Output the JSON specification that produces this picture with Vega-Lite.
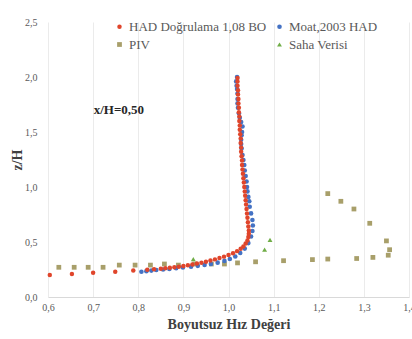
{
  "$schema": "https://vega.github.io/schema/vega-lite/v6.json",
  "autosize": {"type": "none"},
  "padding": {"left": 48, "top": 22, "right": 3, "bottom": 42},
  "width": 361,
  "height": 275,
  "background": "white",
  "config": {
    "view": {"stroke": null},
    "font": "Liberation Serif"
  },
  "layer": [
    {
      "data": {
        "values": [
          {"s": "PIV", "x": 0.624, "z": 0.27},
          {"s": "PIV", "x": 0.658, "z": 0.27},
          {"s": "PIV", "x": 0.689, "z": 0.27},
          {"s": "PIV", "x": 0.722, "z": 0.27},
          {"s": "PIV", "x": 0.758, "z": 0.29},
          {"s": "PIV", "x": 0.793, "z": 0.29},
          {"s": "PIV", "x": 0.827, "z": 0.29},
          {"s": "PIV", "x": 0.858, "z": 0.30},
          {"s": "PIV", "x": 0.889, "z": 0.29},
          {"s": "PIV", "x": 0.925, "z": 0.30},
          {"s": "PIV", "x": 0.962, "z": 0.30},
          {"s": "PIV", "x": 0.991, "z": 0.30},
          {"s": "PIV", "x": 1.020, "z": 0.31},
          {"s": "PIV", "x": 1.060, "z": 0.32},
          {"s": "PIV", "x": 1.122, "z": 0.33},
          {"s": "PIV", "x": 1.186, "z": 0.34},
          {"s": "PIV", "x": 1.220, "z": 0.345},
          {"s": "PIV", "x": 1.284, "z": 0.35},
          {"s": "PIV", "x": 1.320, "z": 0.36},
          {"s": "PIV", "x": 1.354, "z": 0.38},
          {"s": "PIV", "x": 1.357, "z": 0.43},
          {"s": "PIV", "x": 1.350, "z": 0.51},
          {"s": "PIV", "x": 1.313, "z": 0.67},
          {"s": "PIV", "x": 1.278, "z": 0.80},
          {"s": "PIV", "x": 1.249, "z": 0.87},
          {"s": "PIV", "x": 1.220, "z": 0.94},
          {"s": "Moat,2003 HAD", "x": 0.807, "z": 0.230},
          {"s": "Moat,2003 HAD", "x": 0.818, "z": 0.235},
          {"s": "Moat,2003 HAD", "x": 0.829, "z": 0.240},
          {"s": "Moat,2003 HAD", "x": 0.840, "z": 0.245},
          {"s": "Moat,2003 HAD", "x": 0.855, "z": 0.250},
          {"s": "Moat,2003 HAD", "x": 0.869, "z": 0.255},
          {"s": "Moat,2003 HAD", "x": 0.884, "z": 0.262},
          {"s": "Moat,2003 HAD", "x": 0.899, "z": 0.268},
          {"s": "Moat,2003 HAD", "x": 0.917, "z": 0.275},
          {"s": "Moat,2003 HAD", "x": 0.932, "z": 0.283},
          {"s": "Moat,2003 HAD", "x": 0.947, "z": 0.292},
          {"s": "Moat,2003 HAD", "x": 0.961, "z": 0.300},
          {"s": "Moat,2003 HAD", "x": 0.976, "z": 0.312},
          {"s": "Moat,2003 HAD", "x": 0.991, "z": 0.328},
          {"s": "Moat,2003 HAD", "x": 1.003, "z": 0.345},
          {"s": "Moat,2003 HAD", "x": 1.015, "z": 0.368},
          {"s": "Moat,2003 HAD", "x": 1.026, "z": 0.400},
          {"s": "Moat,2003 HAD", "x": 1.036, "z": 0.440},
          {"s": "Moat,2003 HAD", "x": 1.044, "z": 0.490},
          {"s": "Moat,2003 HAD", "x": 1.050, "z": 0.550},
          {"s": "Moat,2003 HAD", "x": 1.053, "z": 0.600},
          {"s": "Moat,2003 HAD", "x": 1.054, "z": 0.650},
          {"s": "Moat,2003 HAD", "x": 1.053, "z": 0.700},
          {"s": "Moat,2003 HAD", "x": 1.050, "z": 0.760},
          {"s": "Moat,2003 HAD", "x": 1.047, "z": 0.820},
          {"s": "Moat,2003 HAD", "x": 1.046, "z": 0.870},
          {"s": "Moat,2003 HAD", "x": 1.044, "z": 0.910},
          {"s": "Moat,2003 HAD", "x": 1.042, "z": 0.960},
          {"s": "Moat,2003 HAD", "x": 1.041, "z": 1.000},
          {"s": "Moat,2003 HAD", "x": 1.040, "z": 1.050},
          {"s": "Moat,2003 HAD", "x": 1.038, "z": 1.100},
          {"s": "Moat,2003 HAD", "x": 1.036, "z": 1.150},
          {"s": "Moat,2003 HAD", "x": 1.035, "z": 1.200},
          {"s": "Moat,2003 HAD", "x": 1.033, "z": 1.245},
          {"s": "Moat,2003 HAD", "x": 1.031, "z": 1.290},
          {"s": "Moat,2003 HAD", "x": 1.029, "z": 1.350},
          {"s": "Moat,2003 HAD", "x": 1.028, "z": 1.390},
          {"s": "Moat,2003 HAD", "x": 1.028, "z": 1.430},
          {"s": "Moat,2003 HAD", "x": 1.029, "z": 1.470},
          {"s": "Moat,2003 HAD", "x": 1.030, "z": 1.500},
          {"s": "Moat,2003 HAD", "x": 1.031, "z": 1.550},
          {"s": "Moat,2003 HAD", "x": 1.028, "z": 1.590},
          {"s": "Moat,2003 HAD", "x": 1.025, "z": 1.630},
          {"s": "Moat,2003 HAD", "x": 1.023, "z": 1.670},
          {"s": "Moat,2003 HAD", "x": 1.021, "z": 1.720},
          {"s": "Moat,2003 HAD", "x": 1.020, "z": 1.760},
          {"s": "Moat,2003 HAD", "x": 1.020, "z": 1.800},
          {"s": "Moat,2003 HAD", "x": 1.020, "z": 1.850},
          {"s": "Moat,2003 HAD", "x": 1.019, "z": 1.890},
          {"s": "Moat,2003 HAD", "x": 1.018, "z": 1.920},
          {"s": "Moat,2003 HAD", "x": 1.017, "z": 1.960},
          {"s": "Moat,2003 HAD", "x": 1.019, "z": 2.000},
          {"s": "HAD Doğrulama 1,08 BO", "x": 0.604, "z": 0.20},
          {"s": "HAD Doğrulama 1,08 BO", "x": 0.653, "z": 0.21},
          {"s": "HAD Doğrulama 1,08 BO", "x": 0.700, "z": 0.22},
          {"s": "HAD Doğrulama 1,08 BO", "x": 0.749, "z": 0.23},
          {"s": "HAD Doğrulama 1,08 BO", "x": 0.789, "z": 0.24},
          {"s": "HAD Doğrulama 1,08 BO", "x": 0.820, "z": 0.248},
          {"s": "HAD Doğrulama 1,08 BO", "x": 0.835, "z": 0.252},
          {"s": "HAD Doğrulama 1,08 BO", "x": 0.850, "z": 0.257},
          {"s": "HAD Doğrulama 1,08 BO", "x": 0.860, "z": 0.261},
          {"s": "HAD Doğrulama 1,08 BO", "x": 0.870, "z": 0.266},
          {"s": "HAD Doğrulama 1,08 BO", "x": 0.880, "z": 0.271},
          {"s": "HAD Doğrulama 1,08 BO", "x": 0.890, "z": 0.276},
          {"s": "HAD Doğrulama 1,08 BO", "x": 0.900, "z": 0.282},
          {"s": "HAD Doğrulama 1,08 BO", "x": 0.910, "z": 0.289},
          {"s": "HAD Doğrulama 1,08 BO", "x": 0.920, "z": 0.296},
          {"s": "HAD Doğrulama 1,08 BO", "x": 0.930, "z": 0.304},
          {"s": "HAD Doğrulama 1,08 BO", "x": 0.940, "z": 0.312},
          {"s": "HAD Doğrulama 1,08 BO", "x": 0.950, "z": 0.321},
          {"s": "HAD Doğrulama 1,08 BO", "x": 0.960, "z": 0.331},
          {"s": "HAD Doğrulama 1,08 BO", "x": 0.970, "z": 0.342},
          {"s": "HAD Doğrulama 1,08 BO", "x": 0.980, "z": 0.354},
          {"s": "HAD Doğrulama 1,08 BO", "x": 0.990, "z": 0.367},
          {"s": "HAD Doğrulama 1,08 BO", "x": 1.000, "z": 0.381},
          {"s": "HAD Doğrulama 1,08 BO", "x": 1.010, "z": 0.398},
          {"s": "HAD Doğrulama 1,08 BO", "x": 1.019, "z": 0.417},
          {"s": "HAD Doğrulama 1,08 BO", "x": 1.027, "z": 0.438},
          {"s": "HAD Doğrulama 1,08 BO", "x": 1.033, "z": 0.460},
          {"s": "HAD Doğrulama 1,08 BO", "x": 1.038, "z": 0.486},
          {"s": "HAD Doğrulama 1,08 BO", "x": 1.042, "z": 0.514},
          {"s": "HAD Doğrulama 1,08 BO", "x": 1.044, "z": 0.545},
          {"s": "HAD Doğrulama 1,08 BO", "x": 1.045, "z": 0.575},
          {"s": "HAD Doğrulama 1,08 BO", "x": 1.045, "z": 0.605},
          {"s": "HAD Doğrulama 1,08 BO", "x": 1.044, "z": 0.640},
          {"s": "HAD Doğrulama 1,08 BO", "x": 1.043, "z": 0.680},
          {"s": "HAD Doğrulama 1,08 BO", "x": 1.042, "z": 0.720},
          {"s": "HAD Doğrulama 1,08 BO", "x": 1.041, "z": 0.760},
          {"s": "HAD Doğrulama 1,08 BO", "x": 1.040, "z": 0.800},
          {"s": "HAD Doğrulama 1,08 BO", "x": 1.039, "z": 0.840},
          {"s": "HAD Doğrulama 1,08 BO", "x": 1.038, "z": 0.880},
          {"s": "HAD Doğrulama 1,08 BO", "x": 1.037, "z": 0.920},
          {"s": "HAD Doğrulama 1,08 BO", "x": 1.036, "z": 0.960},
          {"s": "HAD Doğrulama 1,08 BO", "x": 1.035, "z": 1.000},
          {"s": "HAD Doğrulama 1,08 BO", "x": 1.034, "z": 1.040},
          {"s": "HAD Doğrulama 1,08 BO", "x": 1.033, "z": 1.080},
          {"s": "HAD Doğrulama 1,08 BO", "x": 1.032, "z": 1.120},
          {"s": "HAD Doğrulama 1,08 BO", "x": 1.031, "z": 1.160},
          {"s": "HAD Doğrulama 1,08 BO", "x": 1.030, "z": 1.200},
          {"s": "HAD Doğrulama 1,08 BO", "x": 1.030, "z": 1.240},
          {"s": "HAD Doğrulama 1,08 BO", "x": 1.029, "z": 1.280},
          {"s": "HAD Doğrulama 1,08 BO", "x": 1.028, "z": 1.320},
          {"s": "HAD Doğrulama 1,08 BO", "x": 1.028, "z": 1.360},
          {"s": "HAD Doğrulama 1,08 BO", "x": 1.027, "z": 1.400},
          {"s": "HAD Doğrulama 1,08 BO", "x": 1.027, "z": 1.440},
          {"s": "HAD Doğrulama 1,08 BO", "x": 1.026, "z": 1.480},
          {"s": "HAD Doğrulama 1,08 BO", "x": 1.025, "z": 1.520},
          {"s": "HAD Doğrulama 1,08 BO", "x": 1.025, "z": 1.560},
          {"s": "HAD Doğrulama 1,08 BO", "x": 1.024, "z": 1.600},
          {"s": "HAD Doğrulama 1,08 BO", "x": 1.024, "z": 1.640},
          {"s": "HAD Doğrulama 1,08 BO", "x": 1.023, "z": 1.680},
          {"s": "HAD Doğrulama 1,08 BO", "x": 1.023, "z": 1.720},
          {"s": "HAD Doğrulama 1,08 BO", "x": 1.022, "z": 1.760},
          {"s": "HAD Doğrulama 1,08 BO", "x": 1.022, "z": 1.800},
          {"s": "HAD Doğrulama 1,08 BO", "x": 1.021, "z": 1.840},
          {"s": "HAD Doğrulama 1,08 BO", "x": 1.021, "z": 1.880},
          {"s": "HAD Doğrulama 1,08 BO", "x": 1.020, "z": 1.920},
          {"s": "HAD Doğrulama 1,08 BO", "x": 1.020, "z": 1.960},
          {"s": "HAD Doğrulama 1,08 BO", "x": 1.020, "z": 1.990},
          {"s": "Saha Verisi", "x": 0.922, "z": 0.345},
          {"s": "Saha Verisi", "x": 1.080, "z": 0.430},
          {"s": "Saha Verisi", "x": 1.092, "z": 0.520}
        ]
      },
      "mark": {"type": "point", "filled": true, "opacity": 1},
      "encoding": {
        "x": {
          "field": "x", "type": "quantitative",
          "scale": {"domain": [0.6, 1.4], "nice": false, "zero": false},
          "axis": {
            "title": "Boyutsuz Hız Değeri",
            "values": [0.6, 0.7, 0.8, 0.9, 1.0, 1.1, 1.2, 1.3, 1.4],
            "labelExpr": "replace(format(datum.value, '.1f'), '.', ',')",
            "labelFontSize": 10, "labelColor": "#595959", "labelPadding": 5,
            "labelFlush": false, "labelOverlap": false,
            "ticks": false, "domainColor": "#d9d9d9",
            "grid": true, "gridColor": "#ebebeb",
            "titleFontSize": 14, "titleFontWeight": "bold", "titleColor": "#404040", "titlePadding": 5
          }
        },
        "y": {
          "field": "z", "type": "quantitative",
          "scale": {"domain": [0, 2.5], "nice": false},
          "axis": {
            "title": "z/H",
            "values": [0, 0.5, 1.0, 1.5, 2.0, 2.5],
            "labelExpr": "replace(format(datum.value, '.1f'), '.', ',')",
            "labelFontSize": 10, "labelColor": "#595959", "labelPadding": 11,
            "ticks": false, "domain": false, "grid": false,
            "titleFontSize": 14, "titleFontWeight": "bold", "titleColor": "#404040", "titlePadding": 0
          }
        },
        "color": {
          "field": "s", "type": "nominal",
          "scale": {
            "domain": ["HAD Doğrulama 1,08 BO", "Moat,2003 HAD", "PIV", "Saha Verisi"],
            "range": ["#E0452B", "#4472C4", "#A89F6A", "#70AD47"]
          },
          "legend": {
            "title": null, "orient": "none", "legendX": 65, "legendY": -2,
            "direction": "horizontal",
            "columns": 2, "columnPadding": 6, "rowPadding": 4,
            "symbolSize": 14, "labelFontSize": 13, "labelColor": "#595959", "labelOffset": 3,
            "padding": 0
          }
        },
        "shape": {
          "field": "s", "type": "nominal",
          "scale": {
            "domain": ["HAD Doğrulama 1,08 BO", "Moat,2003 HAD", "PIV", "Saha Verisi"],
            "range": ["circle", "circle", "square", "triangle-up"]
          },
          "legend": null
        },
        "size": {
          "field": "s", "type": "nominal",
          "scale": {
            "domain": ["HAD Doğrulama 1,08 BO", "Moat,2003 HAD", "PIV", "Saha Verisi"],
            "range": [20, 24, 18, 85]
          },
          "legend": null
        }
      }
    },
    {
      "data": {"values": [{"x": 0.757, "z": 1.70, "label": "x/H=0,50"}]},
      "mark": {"type": "text", "fontWeight": "bold", "fontSize": 13, "color": "#262626"},
      "encoding": {
        "x": {"field": "x", "type": "quantitative"},
        "y": {"field": "z", "type": "quantitative"},
        "text": {"field": "label"}
      }
    }
  ]
}
